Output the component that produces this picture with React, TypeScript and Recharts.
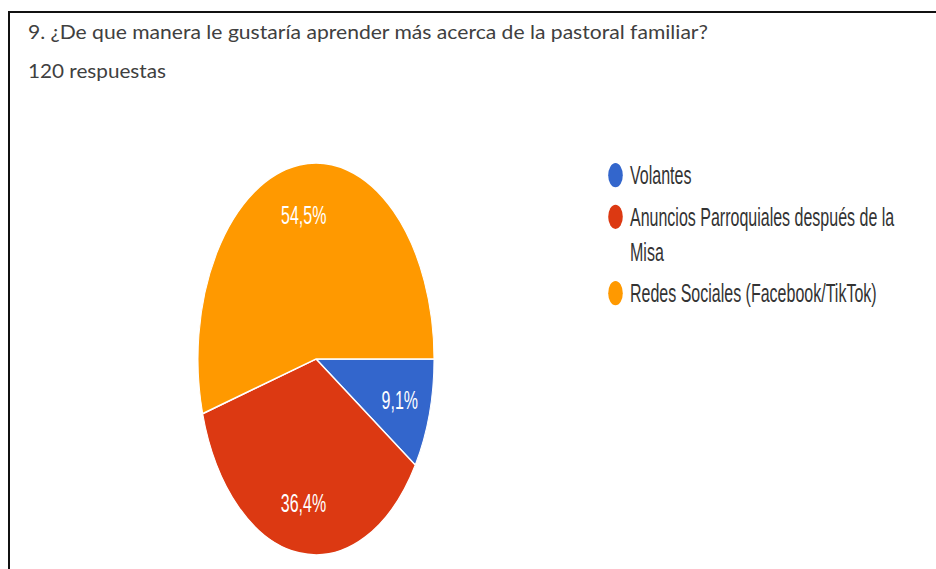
import React from "react";
import { PieChart, Pie, Cell, Legend } from "recharts";

// answers to question 9 (share of 120 responses, in %)
const categories = [
  "Volantes",
  "Anuncios Parroquiales después de la Misa",
  "Redes Sociales (Facebook/TikTok)",
];
const shares = [9.1, 36.4, 54.5];
const colors = ["#3366cc", "#dc3912", "#ff9900"];

const title = "9. ¿De que manera le gustaría aprender más acerca de la pastoral familiar?";
const subtitle = "120 respuestas";

const data = categories.map((name, i) => ({ name, value: shares[i] }));

// the source screenshot is stretched vertically, so the chart is drawn flat and scaled
const STRETCH = 196 / 118;
const W = 936;
const H = 569;
const RADIAN = Math.PI / 180;
const FONT = "'Liberation Sans', Arial, sans-serif";

function SliceLabel({ cx, cy, midAngle, outerRadius, percent }: any) {
  const r = outerRadius * 0.74;
  const x = cx + r * Math.cos(-midAngle * RADIAN);
  const y = cy + r * Math.sin(-midAngle * RADIAN);
  return (
    <text
      x={x}
      y={y}
      fill="#ffffff"
      textAnchor="middle"
      dominantBaseline="central"
      fontSize={16}
      fontFamily={FONT}
    >
      {(percent * 100).toFixed(1).replace(".", ",")}%
    </text>
  );
}

// keep the legend in data order (recharts sorts it by name otherwise)
function LegendList() {
  return (
    <div style={{ fontFamily: FONT, fontSize: 16, color: "#333" }}>
      {categories.map((name, i) => (
        <div key={name} style={{ display: "flex", alignItems: "flex-start", marginBottom: 4 }}>
          <svg width={15} height={21} style={{ flex: "none" }}>
            <circle cx={7.5} cy={10.5} r={7.3} fill={colors[i]} />
          </svg>
          <span style={{ marginLeft: 7, lineHeight: "21px", width: 275 }}>{name}</span>
        </div>
      ))}
    </div>
  );
}

export default function App() {
  return (
    <div
      style={{
        position: "absolute",
        left: 0,
        top: 0,
        width: W,
        height: H,
        overflow: "hidden",
        background: "#fff",
      }}
    >
      {/* frame of the screenshot */}
      <div
        style={{
          position: "absolute",
          left: 8,
          top: 11,
          right: 0,
          bottom: 0,
          borderTop: "2px solid #111",
          borderLeft: "2px solid #111",
        }}
      />
      <svg width={W} height={100} style={{ position: "absolute", left: 0, top: 0 }}>
        <text
          x={28}
          y={39}
          fontFamily="Lato, 'Open Sans', sans-serif"
          fontSize={20}
          fill="#404040"
          textLength={680}
          lengthAdjust="spacingAndGlyphs"
        >
          {title}
        </text>
        <text
          x={28}
          y={77.5}
          fontFamily="Lato, 'Open Sans', sans-serif"
          fontSize={20}
          fill="#404040"
          textLength={138}
          lengthAdjust="spacingAndGlyphs"
        >
          {subtitle}
        </text>
      </svg>
      <div
        style={{
          position: "absolute",
          left: 0,
          top: 0,
          transform: `scaleY(${STRETCH})`,
          transformOrigin: "0 0",
        }}
      >
        <PieChart width={W} height={H / STRETCH} margin={{ top: 0, right: 0, bottom: 0, left: 0 }}>
          <Pie
            data={data}
            dataKey="value"
            nameKey="name"
            cx={316}
            cy={359 / STRETCH}
            outerRadius={118}
            startAngle={0}
            endAngle={-360}
            stroke="#ffffff"
            strokeWidth={1}
            label={SliceLabel}
            labelLine={false}
            isAnimationActive={false}
          >
            {data.map((d, i) => (
              <Cell key={d.name} fill={colors[i]} />
            ))}
          </Pie>
          <Legend
            layout="vertical"
            verticalAlign="middle"
            align="center"
            content={LegendList}
            wrapperStyle={{ left: 608, top: 105.4 - 10.5, width: 310 }}
          />
        </PieChart>
      </div>
    </div>
  );
}
